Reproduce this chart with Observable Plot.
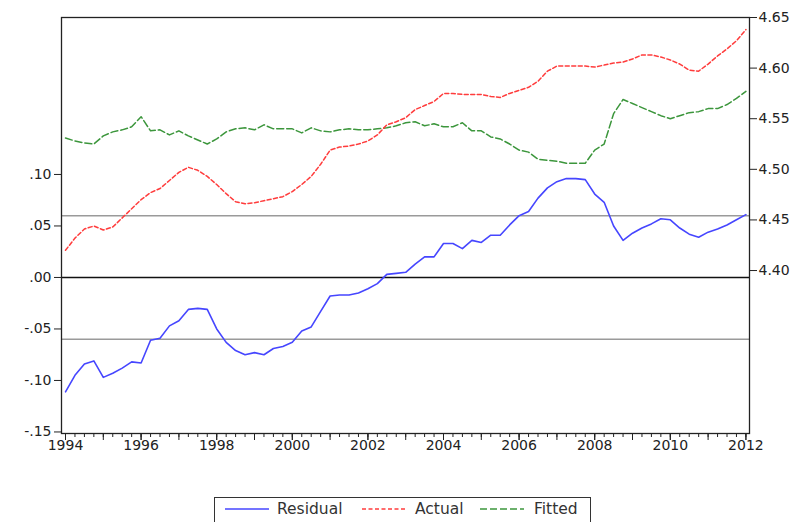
<!DOCTYPE html>
<html><head><meta charset="utf-8">
<script src="https://cdn.jsdelivr.net/npm/d3@7"></script>
<script src="https://cdn.jsdelivr.net/npm/@observablehq/plot@0.6"></script>
<style>
body{margin:0;background:#fff;font-family:"DejaVu Sans",Arial,sans-serif;}
#wrap{position:relative;width:805px;height:522px;overflow:hidden;background:#fff;}
#legend{position:absolute;left:214px;top:497px;width:377px;height:32px;border:1.5px solid #333;box-sizing:border-box;font-size:15.5px;color:#333;}
#legend .sw{position:absolute;top:9px;}
#legend .tx{position:absolute;top:2px;line-height:18px;}
#legend svg{display:block;}
</style></head><body>
<div id="wrap"><div id="chart"></div><div id="legend"></div></div>
<script>
const startYear = 1994;
const seriesNames = ["Residual", "Actual", "Fitted"];
const residual = [-0.111,-0.095,-0.084,-0.081,-0.097,-0.093,-0.088,-0.082,-0.083,-0.061,
  -0.059,-0.047,-0.042,-0.031,-0.030,-0.031,-0.050,-0.063,-0.071,-0.075,
  -0.073,-0.075,-0.069,-0.067,-0.063,-0.052,-0.048,-0.033,-0.018,-0.017,
  -0.017,-0.015,-0.011,-0.006,0.003,0.004,0.005,0.013,0.020,0.020,
  0.033,0.033,0.028,0.036,0.034,0.041,0.041,0.051,0.060,0.064,
  0.077,0.087,0.093,0.096,0.096,0.095,0.081,0.073,0.050,0.036,
  0.043,0.048,0.052,0.057,0.056,0.048,0.042,0.039,0.044,0.047,
  0.051,0.056,0.061];
const actual = [4.420,4.432,4.441,4.444,4.440,4.443,4.452,4.461,4.470,4.477,
  4.481,4.489,4.497,4.502,4.499,4.493,4.485,4.476,4.468,4.466,
  4.467,4.469,4.471,4.473,4.478,4.485,4.493,4.505,4.519,4.522,
  4.523,4.525,4.528,4.534,4.544,4.547,4.551,4.559,4.563,4.567,
  4.575,4.575,4.574,4.574,4.574,4.572,4.571,4.575,4.578,4.581,
  4.587,4.597,4.602,4.602,4.602,4.602,4.601,4.603,4.605,4.606,
  4.609,4.613,4.613,4.611,4.608,4.604,4.598,4.597,4.604,4.612,
  4.619,4.627,4.638];
const fitted = [4.531,4.528,4.526,4.525,4.533,4.537,4.539,4.542,4.552,4.538,
  4.539,4.534,4.538,4.533,4.529,4.525,4.530,4.537,4.540,4.541,
  4.539,4.544,4.540,4.540,4.540,4.536,4.541,4.538,4.537,4.539,
  4.540,4.539,4.539,4.540,4.541,4.543,4.546,4.547,4.543,4.545,
  4.542,4.542,4.546,4.538,4.538,4.532,4.530,4.525,4.519,4.517,
  4.510,4.509,4.508,4.506,4.506,4.506,4.519,4.525,4.555,4.569,
  4.565,4.561,4.557,4.553,4.550,4.553,4.556,4.557,4.560,4.560,
  4.564,4.570,4.577];
const leftTicks = [-0.15,-0.10,-0.05,0.00,0.05,0.10];
const rightTicks = [4.40,4.45,4.50,4.55,4.60,4.65];
const xTickLabels = [1994,1996,1998,2000,2002,2004,2006,2008,2010,2012];
const yearTicks = [1994,1995,1996,1997,1998,1999,2000,2001,2002,2003,2004,2005,2006,2007,2008,2009,2010,2011,2012];
const bandLines = [-0.06, 0.06];
const zeroLine = [0];

const leftDomain = [-0.1515, 0.2524];
const rightDomain = [4.239, 4.65];
const toLeft = d3.scaleLinear().domain(rightDomain).range(leftDomain);

const tOf = i => startYear + i / 4;
const resRows = residual.map((v, i) => ({t: tOf(i), v}));
const actRows = actual.map((v, i) => ({t: tOf(i), v: toLeft(v)}));
const fitRows = fitted.map((v, i) => ({t: tOf(i), v: toLeft(v)}));
const quarterTicks = resRows.map(d => d.t);

const fmtLeft = d => (d < -1e-9 ? "-" : "") + Math.abs(d).toFixed(2).replace(/^0/, "");

const colors = {Residual: "#4646ff", Actual: "#ff3c3c", Fitted: "#3c963c"};
const dashes = {Residual: null, Actual: "4,2.5", Fitted: "7,3"};

const chart = Plot.plot({
  width: 805, height: 490,
  marginLeft: 61, marginRight: 56, marginTop: 17, marginBottom: 57,
  style: {fontSize: "14px", fontFamily: "'DejaVu Sans', Arial, sans-serif", color: "#222", background: "#fff"},
  x: {domain: [1993.894, 2012.095], label: null},
  y: {domain: leftDomain, label: null},
  marks: [
    Plot.ruleY(bandLines, {stroke: "#9a9a9a", strokeWidth: 1.5}),
    Plot.ruleY(zeroLine, {stroke: "#111", strokeWidth: 1.5}),
    Plot.lineY(fitRows, {x: "t", y: "v", stroke: colors.Fitted, strokeWidth: 1.5, strokeDasharray: dashes.Fitted}),
    Plot.lineY(actRows, {x: "t", y: "v", stroke: colors.Actual, strokeWidth: 1.5, strokeDasharray: dashes.Actual}),
    Plot.lineY(resRows, {x: "t", y: "v", stroke: colors.Residual, strokeWidth: 1.6}),
    Plot.frame({stroke: "#222", strokeWidth: 1.3}),
    Plot.axisY(leftTicks, {anchor: "left", label: null, tickSize: 7, tickPadding: 3, tickFormat: fmtLeft, stroke: "#222"}),
    Plot.axisY(rightTicks.map(toLeft), {anchor: "right", label: null, tickSize: 7, tickPadding: 2, tickFormat: d => toLeft.invert(d).toFixed(2), stroke: "#222"}),
    Plot.axisX(quarterTicks, {anchor: "bottom", label: null, tickSize: 4, text: null, stroke: "#222"}),
    Plot.axisX(yearTicks, {anchor: "bottom", label: null, tickSize: 7, text: null, stroke: "#222"}),
    Plot.axisX(xTickLabels, {anchor: "bottom", label: null, tickSize: 7, tickPadding: 0, tickFormat: d => String(d), stroke: "#222"})
  ]
});
document.getElementById("chart").appendChild(chart);

const legend = document.getElementById("legend");
const swLeft = {Residual: 10, Actual: 147, Fitted: 265};
const txLeft = {Residual: 62, Actual: 200, Fitted: 319};
for (const name of seriesNames) {
  const sw = document.createElement("div");
  sw.className = "sw";
  sw.style.left = swLeft[name] + "px";
  sw.innerHTML = `<svg width="44" height="4"><line x1="0" x2="44" y1="2" y2="2" stroke="${colors[name]}" stroke-width="1.6" ${dashes[name] ? `stroke-dasharray="${dashes[name]}"` : ""}/></svg>`;
  const tx = document.createElement("div");
  tx.className = "tx";
  tx.style.left = txLeft[name] + "px";
  tx.textContent = name;
  legend.appendChild(sw);
  legend.appendChild(tx);
}
</script>
</body></html>
